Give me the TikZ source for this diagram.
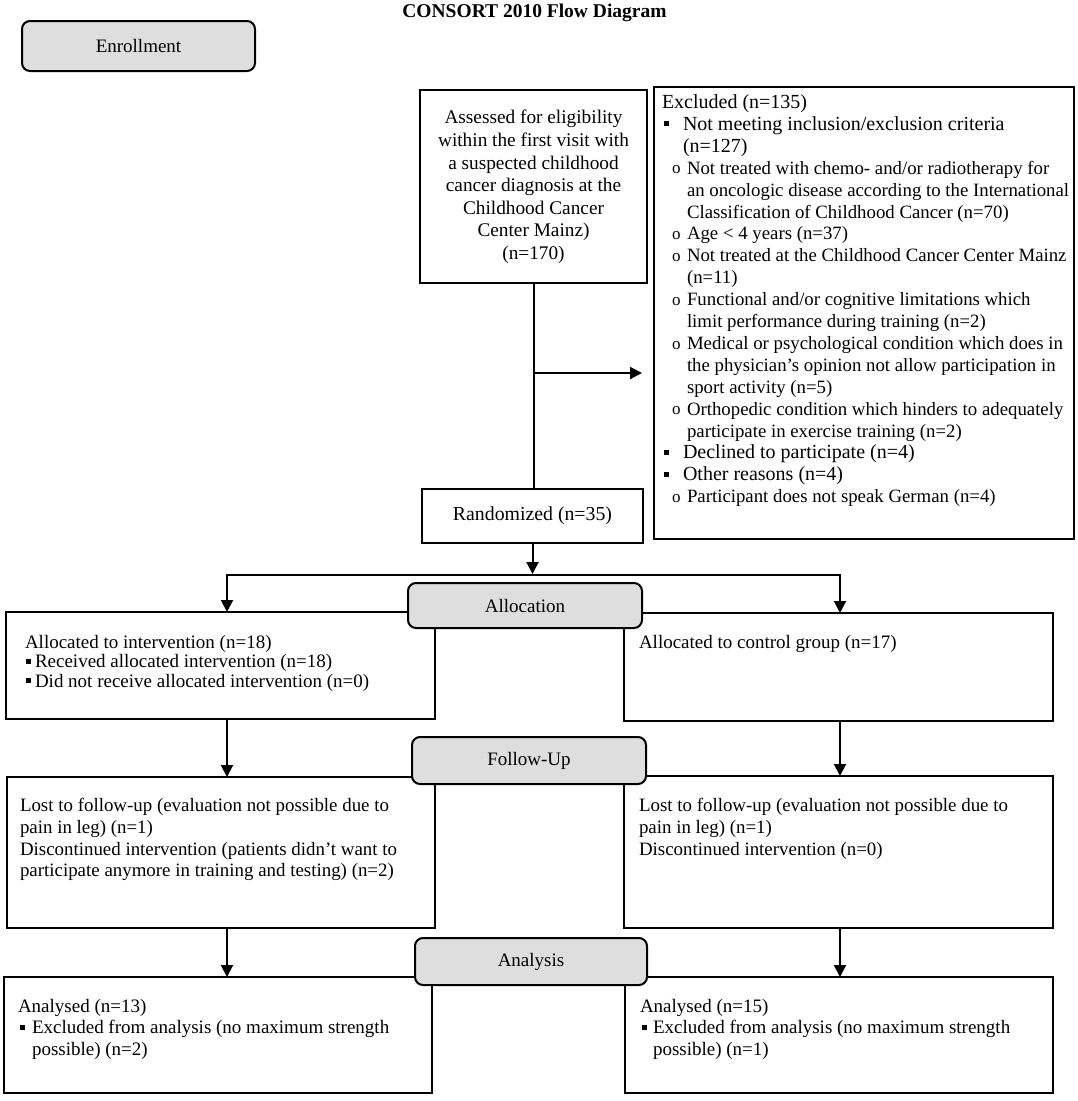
\documentclass[tikz,border=0pt]{standalone}
\usepackage{fontspec}
\setmainfont{Liberation Serif}
\usetikzlibrary{arrows.meta}
\definecolor{boxgray}{RGB}{222,222,222}
\newcommand\sqb{\raisebox{0.2em}{\rule{0.26em}{0.26em}}}
\newcommand\cb{\raisebox{0.02em}{\fontsize{17}{21.9}\selectfont o}}
\newcommand\mainf{\fontsize{20}{21.9}\selectfont}
\newcommand\subf{\fontsize{18.8}{21.9}\selectfont}
\begin{document}
\begin{tikzpicture}[x=1pt,y=-1pt,
  wbox/.style={draw, line width=2pt, fill=white, inner sep=0pt, outer sep=0pt, anchor=north west},
  gbox/.style={draw, line width=2pt, fill=boxgray, rounded corners=8pt, inner sep=0pt, outer sep=0pt, anchor=north west, font=\fontsize{19}{22}\selectfont},
  txt/.style={inner sep=0pt, outer sep=0pt, anchor=north west, align=flush left},
  conn/.style={line width=2pt},
  arr/.style={line width=2pt, -{Triangle[length=12pt,width=12pt]}}]
\fill[white] (0,0) rectangle (1078,1101);
\useasboundingbox (0,0) rectangle (1078,1101);

\node[font=\bfseries\fontsize{19.5}{22}\selectfont] (title) at (534.5,13) {CONSORT 2010 Flow Diagram};

% white boxes
\node[wbox, minimum width=227pt, minimum height=193pt] (assess) at (420,90) {};
\node[wbox, minimum width=420pt, minimum height=452pt] (excl) at (654,87) {};
\node[wbox, minimum width=221pt, minimum height=54pt, font=\fontsize{19.8}{22}\selectfont] (rand) at (422,489) {Randomized (n=35)};
\node[wbox, minimum width=429pt, minimum height=107pt] (alloL) at (6,612) {};
\node[wbox, minimum width=429pt, minimum height=108pt] (alloR) at (624,613) {};
\node[wbox, minimum width=428pt, minimum height=151pt] (fuL) at (7,777) {};
\node[wbox, minimum width=429pt, minimum height=152pt] (fuR) at (624,776) {};
\node[wbox, minimum width=428pt, minimum height=116pt] (anL) at (4,977) {};
\node[wbox, minimum width=428pt, minimum height=116pt] (anR) at (625,977) {};

% gray stage boxes
\node[gbox, minimum width=233pt, minimum height=50pt] (enroll) at (22,21) {Enrollment};
\node[gbox, minimum width=234pt, minimum height=45pt] (alloc) at (408,583) {Allocation};
\node[gbox, minimum width=234pt, minimum height=47pt] (fu) at (412,737) {Follow-Up};
\node[gbox, minimum width=232pt, minimum height=47pt] (an) at (415,938) {Analysis};

% texts
\node[txt, text width=230pt, align=flush center, anchor=north, font=\fontsize{19.3}{22.6}\selectfont] (assessT) at (533.5,108)
 {\strut Assessed for eligibility\\ within the first visit with\\ a suspected childhood\\ cancer diagnosis at the\\ Childhood Cancer\\ Center Mainz)\\ (n=170)\par};

\node[txt, text width=430pt, font=\mainf] (exclT) at (662,93.2)
 {\strut Excluded (n=135)\\
 \makebox[21pt][l]{\hspace{2pt}\sqb}Not meeting inclusion/exclusion criteria\\
 \hspace*{21pt}(n=127)\\
 \subf\hspace*{10pt}\makebox[15pt][l]{\cb}Not treated with chemo- and/or radiotherapy for\\
 \hspace*{25pt}an oncologic disease according to the International\\
 \hspace*{25pt}Classification of Childhood Cancer (n=70)\\
 \hspace*{10pt}\makebox[15pt][l]{\cb}Age < 4 years (n=37)\\
 \hspace*{10pt}\makebox[15pt][l]{\cb}Not treated at the Childhood Cancer Center Mainz\\
 \hspace*{25pt}(n=11)\\
 \hspace*{10pt}\makebox[15pt][l]{\cb}Functional and/or cognitive limitations which\\
 \hspace*{25pt}limit performance during training (n=2)\\
 \hspace*{10pt}\makebox[15pt][l]{\cb}Medical or psychological condition which does in\\
 \hspace*{25pt}the physician’s opinion not allow participation in\\
 \hspace*{25pt}sport activity (n=5)\\
 \hspace*{10pt}\makebox[15pt][l]{\cb}Orthopedic condition which hinders to adequately\\
 \hspace*{25pt}participate in exercise training (n=2)\\
 \mainf\makebox[21pt][l]{\hspace{2pt}\sqb}Declined to participate (n=4)\\
 \makebox[21pt][l]{\hspace{2pt}\sqb}Other reasons (n=4)\\
 \subf\hspace*{10pt}\makebox[15pt][l]{\cb}Participant does not speak German (n=4)\par};

\node[txt, text width=410pt, font=\fontsize{19}{19.6}\selectfont] (alloLT) at (25,634.3)
 {\strut Allocated to intervention (n=18)\\
 \makebox[10pt][l]{\hspace{1pt}\sqb}Received allocated intervention (n=18)\\
 \makebox[10pt][l]{\hspace{1pt}\sqb}Did not receive allocated intervention (n=0)\par};

\node[txt, text width=410pt, font=\fontsize{19}{19.6}\selectfont] (alloRT) at (639,634.3)
 {\strut Allocated to control group (n=17)\par};

\node[txt, text width=415pt, font=\fontsize{18.9}{21.7}\selectfont] (fuLT) at (20,796.5)
 {\strut Lost to follow-up (evaluation not possible due to\\
 pain in leg) (n=1)\\
 Discontinued intervention (patients didn’t want to\\
 participate anymore in training and testing) (n=2)\par};

\node[txt, text width=415pt, font=\fontsize{18.9}{21.7}\selectfont] (fuRT) at (639,796.5)
 {\strut Lost to follow-up (evaluation not possible due to\\
 pain in leg) (n=1)\\
 Discontinued intervention (n=0)\par};

\node[txt, text width=415pt, font=\fontsize{19}{21.5}\selectfont] (anLT) at (18,997)
 {\strut Analysed (n=13)\\
 \makebox[14pt][l]{\hspace{2pt}\sqb}Excluded from analysis (no maximum strength\\
 \hspace*{14pt}possible) (n=2)\par};

\node[txt, text width=415pt, font=\fontsize{19}{21.5}\selectfont] (anRT) at (640,997)
 {\strut Analysed (n=15)\\
 \makebox[13pt][l]{\hspace{2pt}\sqb}Excluded from analysis (no maximum strength\\
 \hspace*{13pt}possible) (n=1)\par};

% connectors
\coordinate (split) at (533,373);
\coordinate (hl) at (227,575);
\coordinate (hr) at (840,575);
\draw[conn] (assess.south) -- (assess.south |- rand.north);
\draw[arr, shorten <=2pt, shorten >=12pt] (split) -- (split -| excl.west);
\draw[arr, shorten >=1pt] (rand.south) -- (rand.south |- hl);
\draw[arr] (rand.south |- hl) -- (hl) -- (hl |- alloL.north);
\draw[arr] (rand.south |- hl) -- (hr) -- (hr |- alloR.north);
\draw[arr] (hl |- alloL.south) -- (hl |- fuL.north);
\draw[arr] (hr |- alloR.south) -- (hr |- fuR.north);
\draw[arr] (hl |- fuL.south) -- (hl |- anL.north);
\draw[arr] (hr |- fuR.south) -- (hr |- anR.north);
\end{tikzpicture}
\end{document}
